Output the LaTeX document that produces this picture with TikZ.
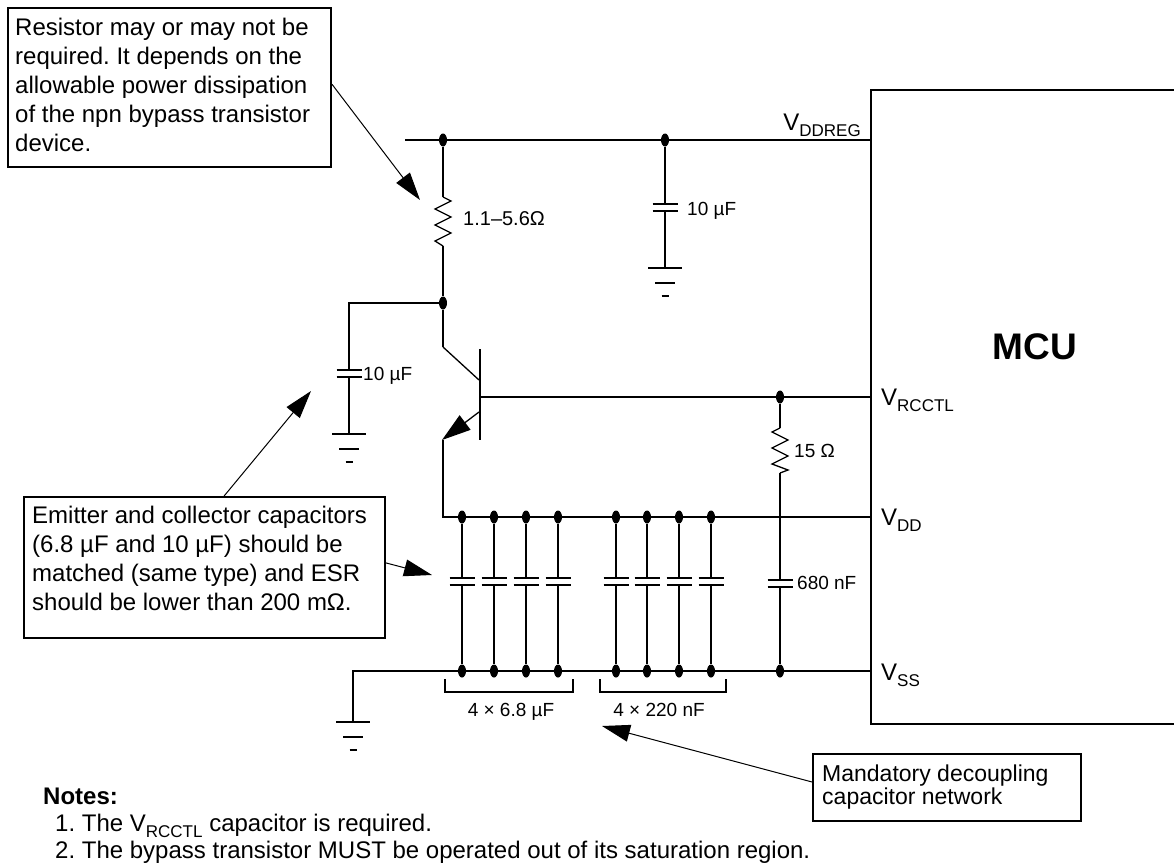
\documentclass[tikz,border=0pt]{standalone}
\usepackage{fontspec}
\setmainfont{Liberation Sans}
\frenchspacing
\usetikzlibrary{calc}
\usetikzlibrary{arrows.meta,shapes,positioning}
\tikzset{>={Triangle[length=28pt,width=17pt]}}
\tikzset{
  vcap/.pic={\draw[line width=2pt] (-12.5,0) -- (12.5,0) (-12.5,6.5) -- (12.5,6.5);},
  earth/.pic={\draw[line width=2pt] (-17,0) -- (17,0) (-10,15) -- (10,15) (-3.5,28) -- (3.5,28);}
}
\newcommand{\lowsub}[2][17]{\raisebox{-6pt}{\fontsize{#1}{#1}\selectfont #2}}

\begin{document}
\begin{tikzpicture}[x=1pt, y=-1pt,
    wire/.style={line width=2pt},
    thinwire/.style={line width=1.3pt},
    leader/.style={line width=1pt, ->},
    junction/.style={ellipse, fill, inner sep=0pt, minimum width=8pt, minimum height=13pt},
    callout/.style={draw, line width=2pt, inner sep=0pt, anchor=north west},
    calltext/.style={font=\fontsize{24}{29}\selectfont, align=left, inner sep=0pt, anchor=north west},
    value/.style={font=\fontsize{19}{19}\selectfont, inner sep=0pt, anchor=base west},
    pin/.style={font=\fontsize{24}{24}\selectfont, inner sep=0pt},
    notetext/.style={font=\fontsize{24}{24}\selectfont, inner sep=0pt, anchor=base west}]
  \useasboundingbox (0,0) rectangle (1174,867);

  \node[draw, line width=2pt, inner sep=0pt, anchor=north west, minimum width=330pt, minimum height=634pt] (mcubox) at (870,89) {};
  \node[font=\bfseries\fontsize{37}{37}\selectfont] (mcu) at (1035,347) {MCU};

  \coordinate (regL) at (405,140);
  \node[junction] (jR1) at (443,140) {};
  \node[junction] (jC1) at (665,140) {};
  \coordinate (pReg) at (870,140);
  \draw[wire] (regL) -- (jR1) -- (jC1) -- (pReg);
  \node[pin, anchor=base east] (lReg) at (861,130) {V\lowsub{DDREG}};

  \coordinate (r1t) at (443,197);
  \coordinate (r1b) at (443,246);
  \node[junction] (jK) at (443,303) {};
  \draw[wire] (jR1) -- (r1t);
  \draw[thinwire] (r1t) -- ++(8,4) -- ++(-16,8) -- ++(16,8) -- ++(-16,8) -- ++(16,8) -- ++(-16,8) -- (r1b);
  \draw[wire] (r1b) -- (jK);
  \node[value, font=\fontsize{20}{20}\selectfont] (r1lbl) at (463,225) {1.1–5.6Ω};

  \coordinate (c1t) at (665,204);
  \coordinate (c1b) at (665,210.5);
  \coordinate (g1) at (665,268);
  \draw[wire] (jC1) -- (c1t);
  \pic at (c1t) {vcap};
  \draw[wire] (c1b) -- (g1);
  \pic at (g1) {earth};
  \node[value] (c1lbl) at (687,215) {10 µF};

  \coordinate (kL) at (349,303);
  \coordinate (c2t) at (349,370);
  \coordinate (c2b) at (349,376.5);
  \coordinate (g2) at (349,434);
  \draw[wire] (jK) -- (kL) -- (c2t);
  \pic at (c2t) {vcap};
  \draw[wire] (c2b) -- (g2);
  \pic at (g2) {earth};
  \node[value] (c2lbl) at (363,380) {10 µF};

  \coordinate (kBend) at (443,347);
  \coordinate (barC) at (479,380);
  \coordinate (barTop) at (480,349);
  \coordinate (barBot) at (480,440);
  \coordinate (barB) at (481,397);
  \coordinate (barE) at (479,412);
  \coordinate (eTip) at (442,440);
  \draw[wire] (jK) -- (kBend);
  \draw[thinwire] (kBend) -- (barC);
  \draw[wire] (barTop) -- (barBot);
  \draw[thinwire, ->, >={Triangle[length=29pt,width=18pt]}] (barE) -- (eTip);

  \node[junction] (jB) at (780,397) {};
  \coordinate (pRc) at (870,397);
  \draw[wire] (barB) -- (jB) -- (pRc);
  \node[pin, anchor=base west] (lRc) at (881,405) {V\lowsub{RCCTL}};

  \coordinate (eFoot) at (443,517);
  \coordinate (pDd) at (870,517);
  \draw[wire] (443,440) -- (eFoot) -- (pDd);
  \node[pin, anchor=base west] (lDd) at (881,525) {V\lowsub{DD}};

  \coordinate (ssL) at (353,671);
  \coordinate (g3) at (353,722);
  \coordinate (pSs) at (870,671);
  \draw[wire] (g3) -- (ssL) -- (pSs);
  \pic at (g3) {earth};
  \node[pin, anchor=base west] (lSs) at (881,680) {V\lowsub{SS}};

  \foreach \x [count=\i] in {462,494,526,558,616,647,679,711}{
    \node[junction] (dd\i) at (\x,517) {};
    \node[junction] (ss\i) at (\x,671) {};
    \coordinate (bt\i) at (\x,578);
    \coordinate (bb\i) at (\x,584.5);
    \draw[wire] (dd\i) -- (bt\i);
    \pic at (bt\i) {vcap};
    \draw[wire] (bb\i) -- (ss\i);
  }

  \coordinate (r2t) at (780,428);
  \coordinate (r2b) at (780,473);
  \coordinate (c3t) at (780,580);
  \coordinate (c3b) at (780,586.5);
  \node[junction] (ss9) at (780,671) {};
  \draw[wire] (jB) -- (r2t);
  \draw[thinwire] (r2t) -- ++(-8,4) -- ++(16,8) -- ++(-16,8) -- ++(16,8) -- ++(-16,8) -- ++(16,6) -- (r2b);
  \draw[wire] (r2b) -- (c3t);
  \pic at (c3t) {vcap};
  \draw[wire] (c3b) -- (ss9);
  \node[value] (r2lbl) at (794,457) {15 Ω};
  \node[value] (c3lbl) at (797,589) {680 nF};

  \draw[wire] (445,679) -- (445,692) -- (573,692) -- (573,679);
  \draw[wire] (600,679) -- (600,692) -- (726,692) -- (726,679);
  \node[value, anchor=base] (bankA) at (511,716) {4 × 6.8 µF};
  \node[value, anchor=base] (bankB) at (659,716) {4 × 220 nF};

  \node[callout, minimum width=323pt, minimum height=159pt] (note1) at (7,7) {};
  \node[calltext] (note1txt) at (15,18) {Resistor may or may not be\\required. It depends on the\\allowable power dissipation\\of the npn bypass transistor\\device.};
  \coordinate (tipR1) at (420,200);
  \draw[leader] ($(note1.north east)!0.48!(note1.south east)$) -- (tipR1);

  \node[callout, minimum width=361pt, minimum height=141pt] (note2) at (23,496) {};
  \node[calltext] (note2txt) at (32,506) {Emitter and collector capacitors\\(6.8 µF and 10 µF) should be\\matched (same type) and ESR\\should be lower than 200 mΩ.};
  \coordinate (tipC2) at (311,391);
  \coordinate (tipBank) at (432,575);
  \draw[leader] ($(note2.north west)!0.554!(note2.north east)$) -- (tipC2);
  \draw[leader] ($(note2.north east)!0.468!(note2.south east)$) -- (tipBank);

  \node[callout, minimum width=268pt, minimum height=67pt] (note3) at (812,753) {};
  \node[calltext, font=\fontsize{23}{23}\selectfont] (note3txt) at (822,765) {Mandatory decoupling\\capacitor network};
  \coordinate (tipNet) at (602,726);
  \draw[leader] ($(note3.north west)!0.42!(note3.south west)$) -- (tipNet);

  \node[notetext, font=\bfseries\fontsize{24}{24}\selectfont] (notesHd) at (43,804) {Notes:};
  \node[notetext] (noteA) at (55,831) {1. The V\lowsub{RCCTL} capacitor is required.};
  \node[notetext] (noteB) at (55,858) {2. The bypass transistor MUST be operated out of its saturation region.};
\end{tikzpicture}
\end{document}
